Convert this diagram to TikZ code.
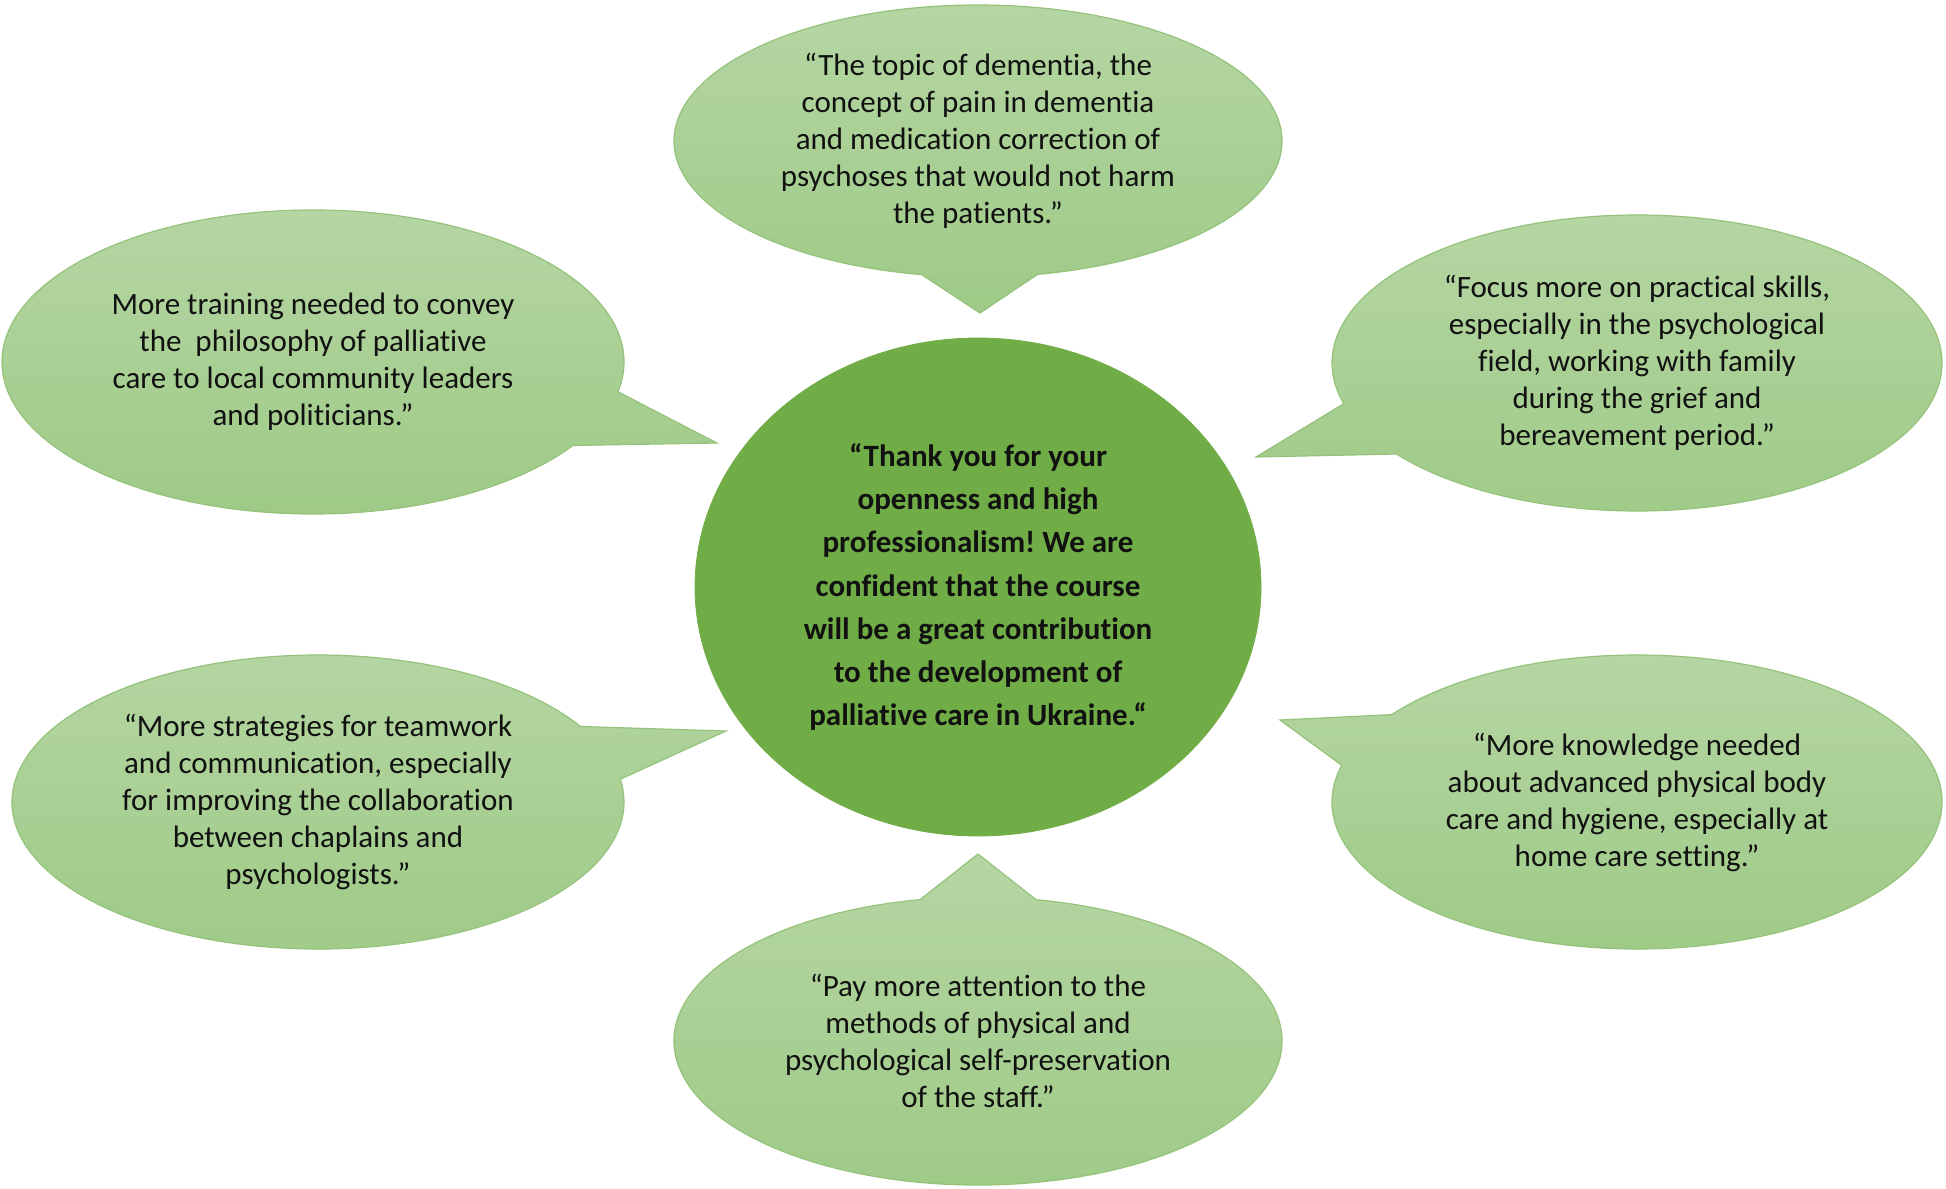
\documentclass[tikz,border=0pt]{standalone}
\usepackage{fontspec}
\setmainfont[Ligatures=NoCommon]{Carlito}
\usetikzlibrary{shapes.callouts,shapes.geometric}
\definecolor{gtop}{HTML}{B5D6A3}
\definecolor{gbot}{HTML}{9ECA86}
\definecolor{gline}{HTML}{95C37B}
\definecolor{cfill}{HTML}{70AD47}
\definecolor{txt}{HTML}{111111}
\frenchspacing
\begin{document}
\begin{tikzpicture}[x=0.5pt,y=-0.5pt,
  bubble/.style={ellipse callout, callout pointer arc=22, top color=gtop, bottom color=gbot,
    draw=gline, line width=0.6pt, inner sep=0pt, align=center,
    font=\fontsize{15.5}{18.5}\selectfont, text=txt},
  hub/.style={ellipse, fill=cfill, draw=cfill, inner sep=0pt, align=center,
    font=\bfseries\fontsize{15.5}{21.6}\selectfont, text=txt}
]
\useasboundingbox (0,0) rectangle (1946,1188);

\coordinate (tTip) at (980,313);
\coordinate (tlTip) at (717,443);
\coordinate (trTip) at (1256,457);
\coordinate (blTip) at (726,731);
\coordinate (brTip) at (1280,720);
\coordinate (bTip) at (978,854);

\node[bubble, minimum width=304pt, minimum height=136pt, callout absolute pointer={(tTip)}] (top) at (978,141)
  {“The topic of dementia, the\\ concept of pain in dementia\\ and medication correction of\\ psychoses that would not harm\\ the patients.”};

\node[bubble, minimum width=311pt, minimum height=152pt, callout absolute pointer={(tlTip)}] (tl) at (313,362)
  {More training needed to convey\\ the\ \ philosophy of palliative\\ care to local community leaders\\ and politicians.”};

\node[bubble, minimum width=305pt, minimum height=148pt, callout absolute pointer={(trTip)}] (tr) at (1637,363)
  {“Focus more on practical skills,\\ especially in the psychological\\ field, working with family\\ during the grief and\\ bereavement period.”};

\node[bubble, minimum width=306pt, minimum height=147pt, callout absolute pointer={(blTip)}] (bl) at (318,802)
  {“More strategies for teamwork\\ and communication, especially\\ for improving the collaboration\\ between chaplains and\\ psychologists.”};

\node[bubble, minimum width=305pt, minimum height=147pt, callout absolute pointer={(brTip)}] (br) at (1637,802)
  {“More knowledge needed\\ about advanced physical body\\ care and hygiene, especially at\\ home care setting.”};

\node[bubble, minimum width=304pt, minimum height=144pt, callout absolute pointer={(bTip)}] (bot) at (978,1041)
  {“Pay more attention to the\\ methods of physical and\\ psychological self-preservation\\ of the staff.”};

\node[hub, minimum width=283pt, minimum height=249pt] (hub) at (978,587)
  {“Thank you for your\\ openness and high\\ professionalism! We are\\ confident that the course\\ will be a great contribution\\ to the development of\\ palliative care in Ukraine.“};
\end{tikzpicture}
\end{document}
